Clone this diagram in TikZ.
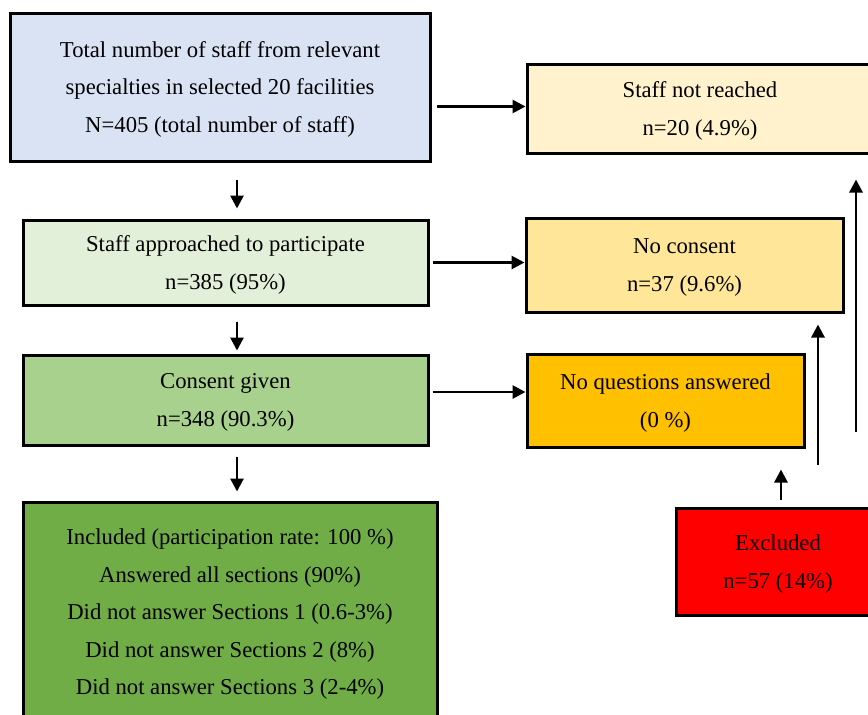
\documentclass[tikz,border=0pt]{standalone}
\usepackage{fontspec}
\setmainfont{Liberation Serif}
\usepackage{xcolor}
\usetikzlibrary{arrows.meta}

\definecolor{totalblue}{HTML}{DAE3F3}
\definecolor{approachgreen}{HTML}{E2F0D9}
\definecolor{consentgreen}{HTML}{A9D18E}
\definecolor{includedgreen}{HTML}{70AD47}
\definecolor{notreachedyellow}{HTML}{FFF2CC}
\definecolor{noconsentyellow}{HTML}{FFE699}
\definecolor{noanswerorange}{HTML}{FFC000}
\definecolor{excludedred}{HTML}{FF0000}

\tikzset{
	flowbox/.style={draw=black, line width=3pt, align=center, inner sep=0pt, text depth=-7pt,
		font=\fontsize{22.7}{37.5}\selectfont},
	flowarrow/.style={-{Triangle[length=13pt,width=13pt]}, line width=2.8pt},
}

\begin{document}
\begin{tikzpicture}[x=1pt, y=-1pt]
		%frame of the figure (boxes on the right and bottom are cut)
		\clip (0,0) rectangle (868,715);
		
		%position of the vertical arrows
		\coordinate (spine) at (237,0);
		\coordinate (up nqa) at (781,500);
		\coordinate (up consent) at (818,465);
		\coordinate (up reached) at (856,432);
		
		%left column
		\node [flowbox, fill=totalblue, minimum width=420, minimum height=148] (total) at (220,87)
			{Total number of staff from relevant\\specialties in selected 20 facilities\\N=405 (total number of staff)};
		\node [flowbox, fill=approachgreen, minimum width=405, minimum height=85] (approached) at (225.5,262.5)
			{Staff approached to participate\\n=385 (95\%)};
		\node [flowbox, fill=consentgreen, minimum width=405, minimum height=90] (consent) at (225.5,400)
			{Consent given\\n=348 (90.3\%)};
		\node [flowbox, fill=includedgreen, minimum width=414, minimum height=220] (included) at (230,612)
			{Included (participation rate: 100 \%)\\Answered all sections (90\%)\\Did not answer Sections 1 (0.6-3\%)\\Did not answer Sections 2 (8\%)\\Did not answer Sections 3 (2-4\%)};
		
		%right column
		\node [flowbox, fill=notreachedyellow, minimum width=346, minimum height=89] (notreached) at (700,108.5)
			{Staff not reached\\n=20 (4.9\%)};
		\node [flowbox, fill=noconsentyellow, minimum width=317, minimum height=94] (noconsent) at (684.5,265)
			{No consent\\n=37 (9.6\%)};
		\node [flowbox, fill=noanswerorange, minimum width=277, minimum height=93] (nqa) at (665.5,400.5)
			{No questions answered\\(0 \%)};
		\node [flowbox, fill=excludedred, minimum width=204, minimum height=107] (excluded) at (778,561.5)
			{Excluded\\n=57 (14\%)};
		
		%arrows down
		\draw [flowarrow, shorten <=17pt, shorten >=10pt] (total.south -| spine) -- (approached.north -| spine);
		\draw [flowarrow, shorten <=15pt, shorten >=3pt] (approached.south -| spine) -- (consent.north -| spine);
		\draw [flowarrow, shorten <=10pt, shorten >=9pt] (consent.south -| spine) -- (included.north -| spine);
		
		%arrows to the right
		\draw [flowarrow, shorten <=5pt] ([yshift=2pt]total.east |- notreached.west) -- ([yshift=2pt]notreached.west);
		\draw [flowarrow, shorten <=3pt] (approached.east) -- (approached.east -| noconsent.west);
		\draw [flowarrow, shorten <=3pt] ([yshift=8pt]consent.east) -- ([yshift=8pt]consent.east -| nqa.west);
		
		%arrows up from excluded
		\draw [flowarrow, shorten >=21pt] (up nqa) -- (up nqa |- nqa.south);
		\draw [flowarrow, shorten >=11pt] (up consent) -- (up consent |- noconsent.south);
		\draw [flowarrow, shorten >=25pt] (up reached) -- (up reached |- notreached.south);

	\end{tikzpicture}
\end{document}
